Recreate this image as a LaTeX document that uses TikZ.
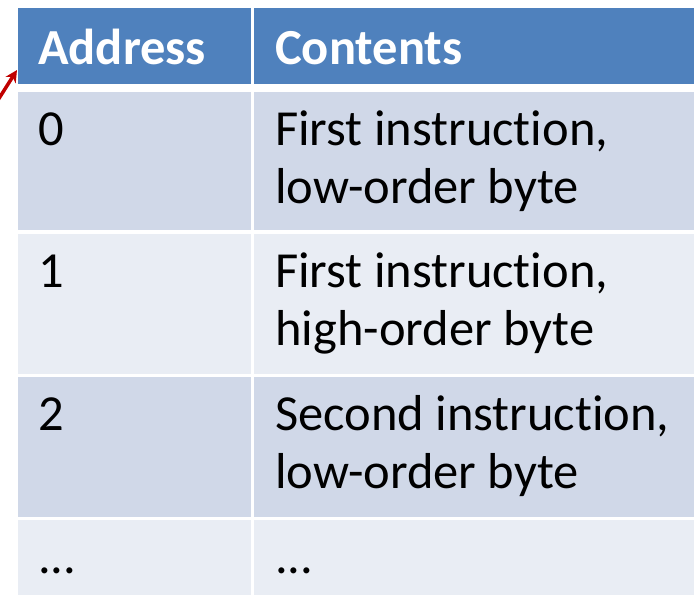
\documentclass[tikz,border=0pt]{standalone}
\usepackage{fontspec}
\setmainfont{Carlito}[Ligatures={NoCommon,NoContextual}]
\usepackage{tikz}
\usetikzlibrary{arrows.meta}
\definecolor{hdblue}{HTML}{4F81BD}
\definecolor{rowdark}{HTML}{D0D8E8}
\definecolor{rowlight}{HTML}{E9EDF4}
\definecolor{ptrred}{HTML}{C00000}
\tikzset{
  cell/.style={anchor=north west, inner sep=0pt, outer sep=0pt},
  txt/.style={anchor=base west, inner sep=0pt, font=\fontsize{50.5}{60}\selectfont},
  hdtxt/.style={txt, text=white, font=\fontsize{50.5}{60}\selectfont\bfseries}
}

\begin{document}
\begin{tikzpicture}[x=1pt, y=-1pt, >={Stealth[length=12pt,width=12pt]}]
    \useasboundingbox (0, 0) rectangle (698, 595);
    % header
    \node[cell, fill=hdblue, minimum width=233, minimum height=76] (hAddr) at (17.7, 8) {};
    \node[cell, fill=hdblue, minimum width=440, minimum height=76] (hCont) at (254, 8) {};
    \node[hdtxt] (tAddr) at (38, 64) {Address};
    \node[hdtxt] (tCont) at (275, 64) {Contents};
    % rows
    \node[cell, fill=rowdark, minimum width=233, minimum height=138] (a0) at (17.7, 92) {};
    \node[cell, fill=rowdark, minimum width=440, minimum height=138] (c0) at (254, 92) {};
    \node[cell, fill=rowlight, minimum width=233, minimum height=140.3] (a1) at (17.7, 233.7) {};
    \node[cell, fill=rowlight, minimum width=440, minimum height=140.3] (c1) at (254, 233.7) {};
    \node[cell, fill=rowdark, minimum width=233, minimum height=140] (a2) at (17.7, 376.7) {};
    \node[cell, fill=rowdark, minimum width=440, minimum height=140] (c2) at (254, 376.7) {};
    \node[cell, fill=rowlight, minimum width=233, minimum height=75] (a3) at (17.7, 520) {};
    \node[cell, fill=rowlight, minimum width=440, minimum height=75] (c3) at (254, 520) {};
    % texts
    \node[txt] (t0) at (38, 145) {0};
    \node[txt] (s0a) at (275, 145) {First instruction,};
    \node[txt] (s0b) at (275, 203) {low-order byte};
    \node[txt] (t1) at (38, 287) {1};
    \node[txt] (s1a) at (275, 287) {First instruction,};
    \node[txt] (s1b) at (275, 345) {high-order byte};
    \node[txt] (t2) at (38, 430) {2};
    \node[txt] (s2a) at (275, 430) {Second instruction,};
    \node[txt] (s2b) at (275, 488) {low-order byte};
    \node[txt] (t3) at (38, 573) {...};
    \node[txt] (s3) at (275, 573) {...};
    % pointer
    \coordinate (ptrtail) at (-2, 100);
    \coordinate (ptrhead) at (17, 70);
    \draw[->, ptrred, line width=3.5pt] (ptrtail) -- (ptrhead);
\end{tikzpicture}
\end{document}
